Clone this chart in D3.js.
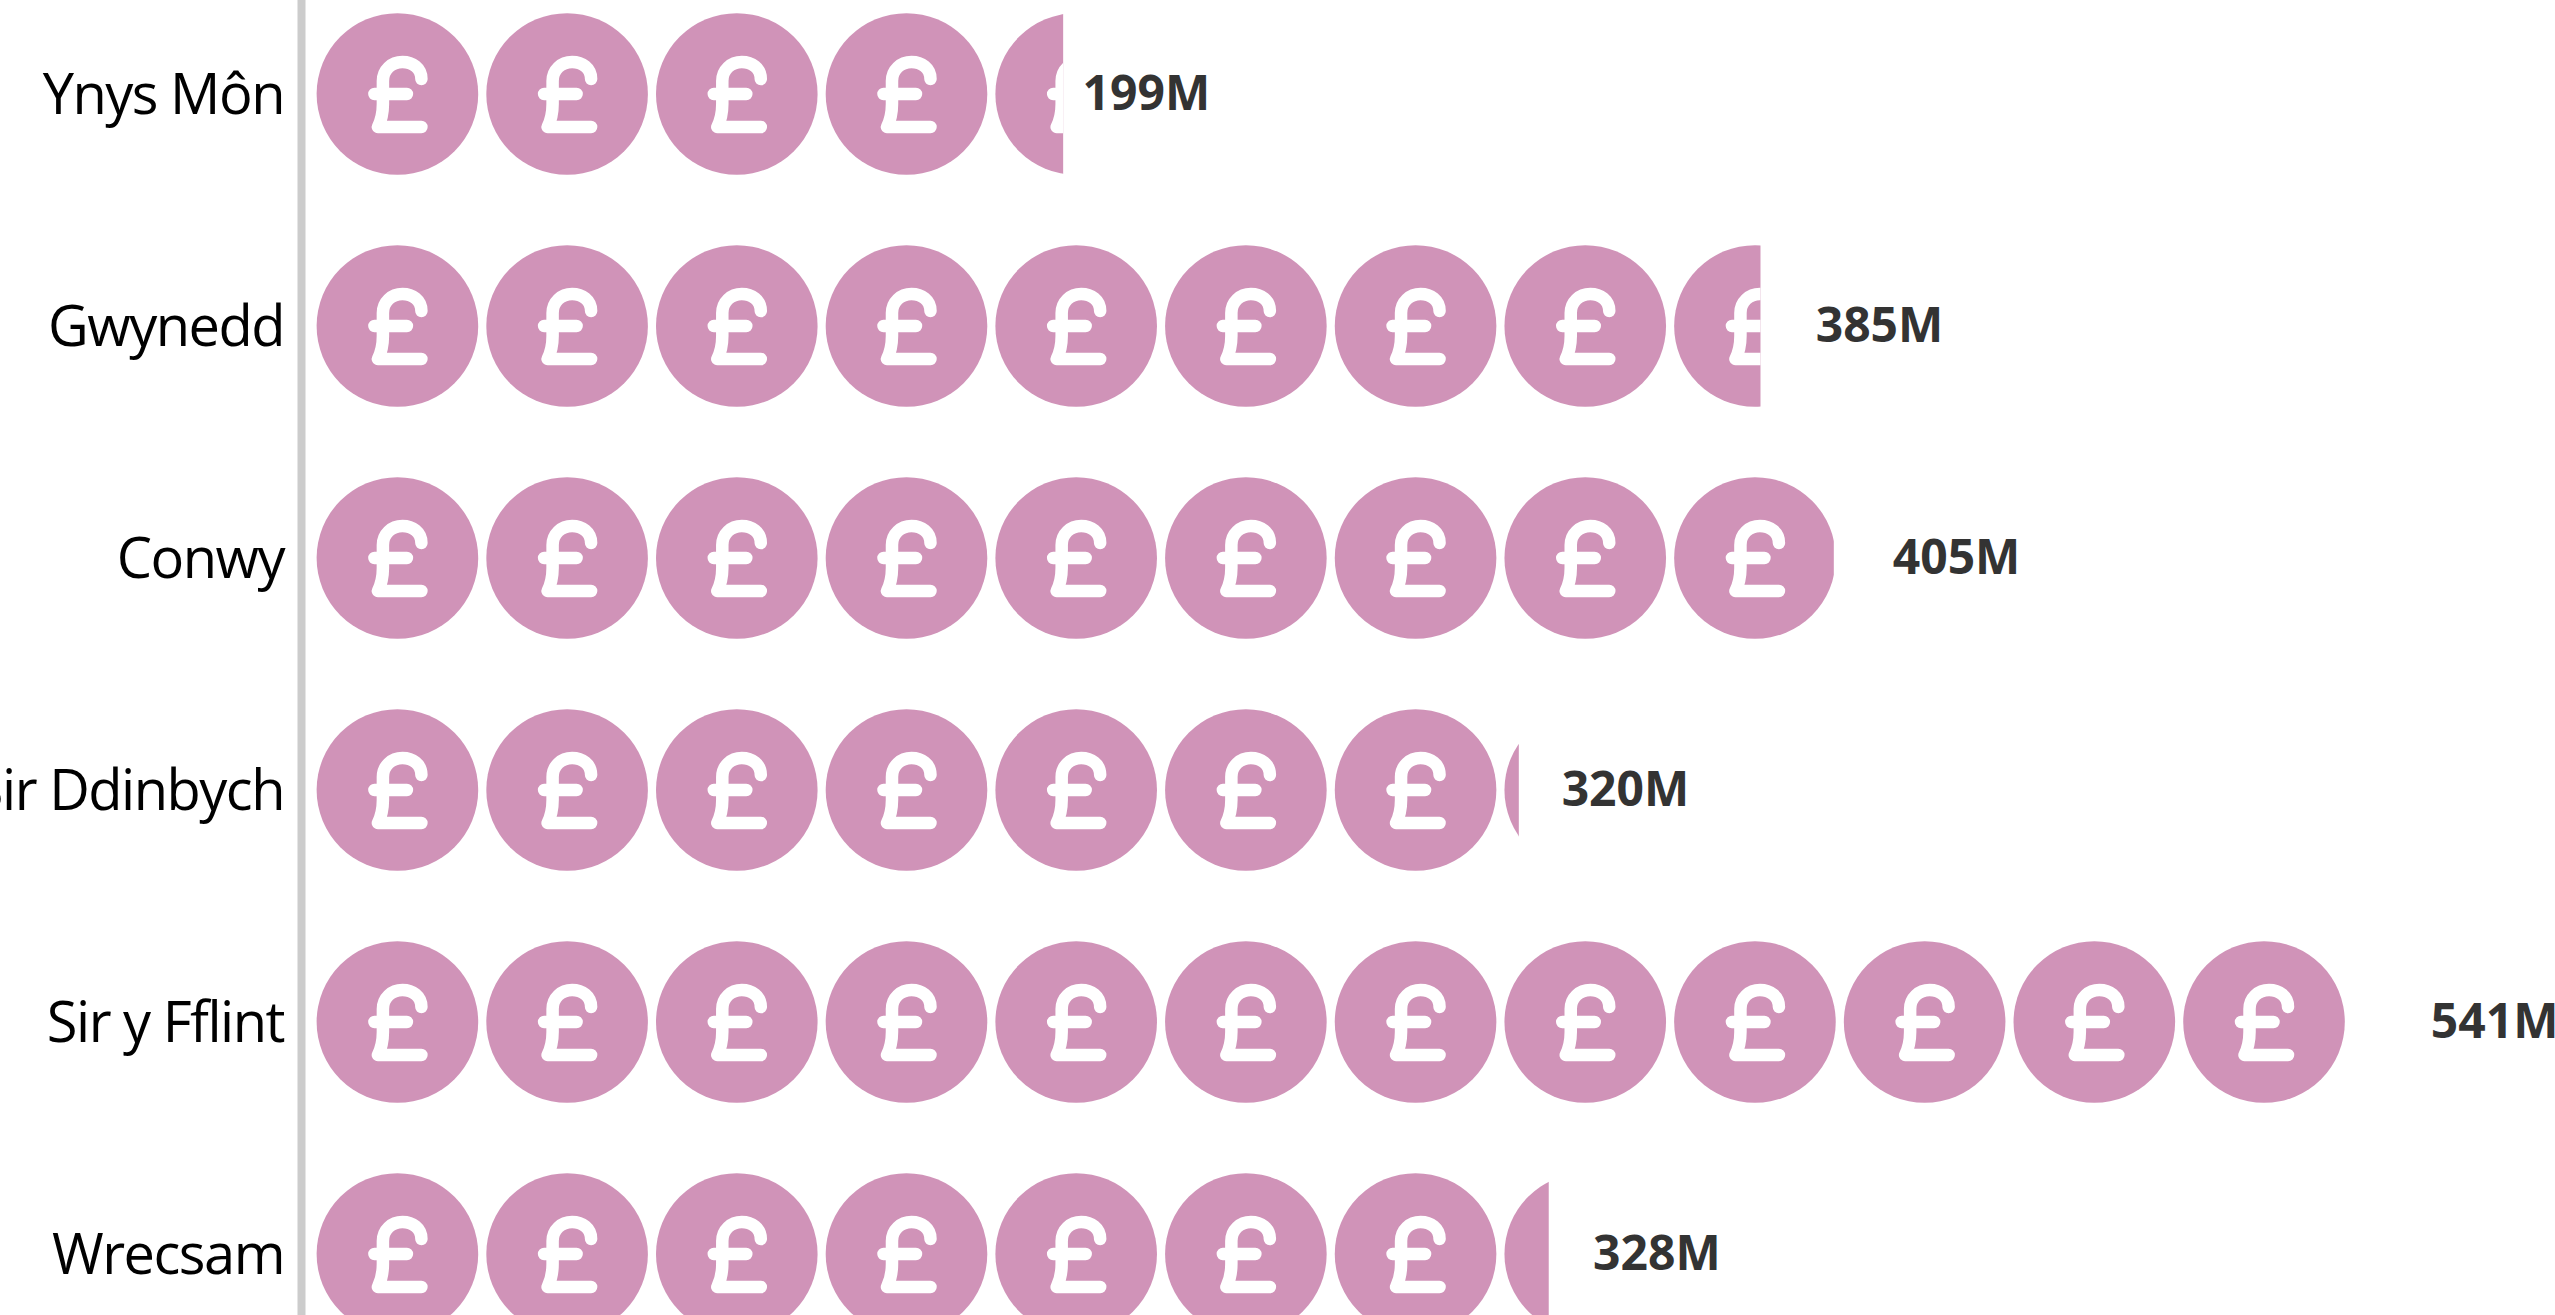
<!DOCTYPE html>
<html>
<head>
<meta charset="utf-8">
<script src="https://cdn.jsdelivr.net/npm/d3@7"></script>
<style>
  html, body { margin: 0; background: #fff; overflow: hidden; }
  .axis text { font-family: "Open Sans", sans-serif; font-size: 56px; letter-spacing: -1.5px; fill: #000; }
  .axis path { stroke: #ccc; stroke-width: 8; }
  .value { font-family: "Open Sans", sans-serif; font-weight: 700; font-size: 48px; fill: #333; }
</style>
</head>
<body>
<div class="mainDiv"></div>
<script>
const width = 2555;
const height = 1315;

const areas = ["Ynys Môn", "Gwynedd", "Conwy", "Sir Ddinbych", "Sir y Fflint", "Wrecsam"];
const values = [198.6, 385.0, 404.6, 320.4, 541.4, 328.4];
// how many millions one coin stands for
const perIcon = 45.36;

const svg = d3.select(".mainDiv").append("svg")
  .attr("width", width).attr("height", height)
  .style("display", "block");

const rows = areas.map((a, i) => ({ area: a, value: values[i], id: i }));

const y = d3.scaleBand().domain(areas).range([-22, 1370]);
// icons get clipped on this one
const iconX = d3.scaleLinear().domain([0, 100]).range([320.2, 694.3]);
// labels sit on a slightly wider one
const labelX = d3.scaleLinear().domain([0, 100]).range([301.5, 694.8]);

const iconR = 80.8;
const pound = "M24,-15 C24,-26 15,-32 5,-32 C-6,-32 -14.5,-24 -14.5,-13 L-14.5,10 C-14.5,20 -16,26 -19.5,33 L24,33 M-23,0 L9.5,0";

const defs = svg.append("defs");
defs.selectAll("clipPath")
  .data(rows)
  .join("clipPath")
  .attr("id", d => "clip" + d.id)
  .append("rect")
  .attr("x", iconX(0) - 20)
  .attr("y", d => y(d.area))
  .attr("width", d => iconX(d.value) - iconX(0) + 20)
  .attr("height", y.bandwidth());

const bars = svg.selectAll("g.row")
  .data(rows)
  .join("g")
  .attr("class", "row")
  .attr("clip-path", d => `url(#clip${d.id})`);

const icons = bars.selectAll("g.icon")
  .data(d => d3.range(Math.ceil(d.value / perIcon)).map(i => ({ i: i, area: d.area })))
  .join("g")
  .attr("class", "icon")
  .attr("transform", d => `translate(${iconX(perIcon * (d.i + 0.455))},${y(d.area) + y.bandwidth() / 2})`);

icons.append("circle")
  .attr("r", iconR)
  .attr("fill", "#d093b8");

icons.append("path")
  .attr("d", pound)
  .attr("fill", "none")
  .attr("stroke", "#fff")
  .attr("stroke-width", 12.5)
  .attr("stroke-linecap", "round")
  .attr("stroke-linejoin", "round");

svg.selectAll("text.value")
  .data(rows)
  .join("text")
  .attr("class", "value")
  .attr("x", d => labelX(d.value))
  .attr("y", d => y(d.area) + y.bandwidth() / 2 + 16)
  .text(d => Math.round(d.value) + "M");

const axis = svg.append("g")
  .attr("class", "axis")
  .attr("transform", "translate(301,0)")
  .call(d3.axisLeft(y).tickSize(0).tickSizeOuter(0).tickPadding(17));

axis.selectAll("text").attr("dy", "0.36em");
</script>
</body>
</html>
